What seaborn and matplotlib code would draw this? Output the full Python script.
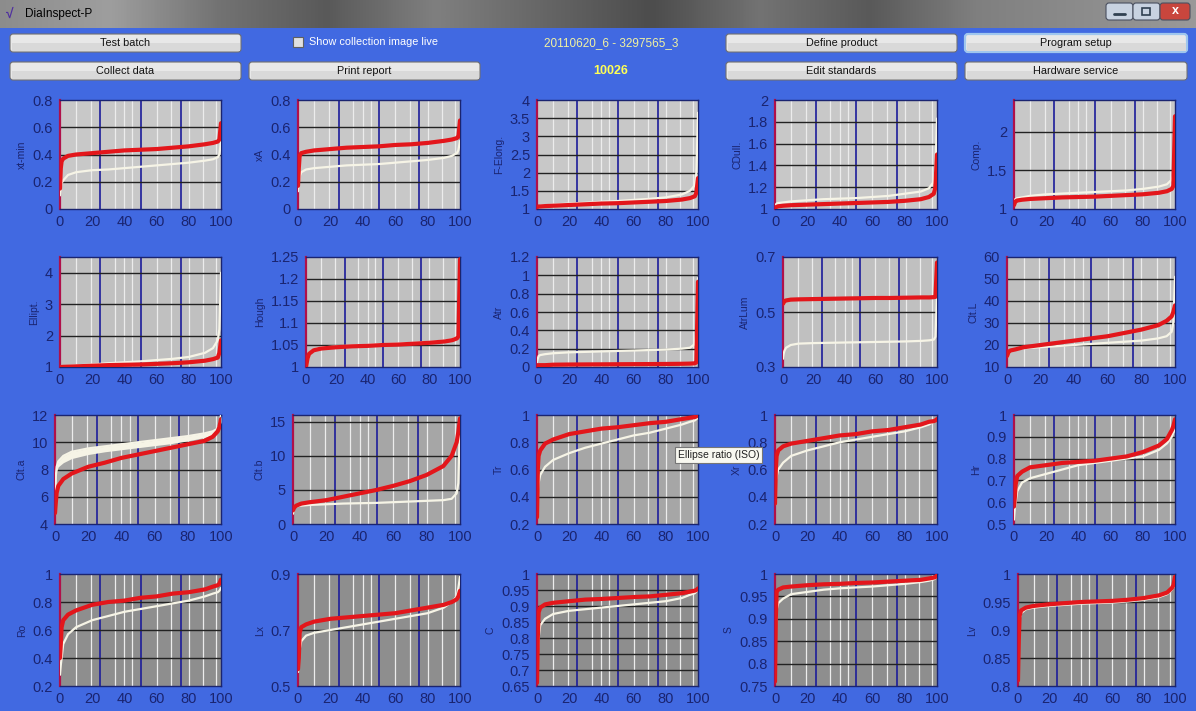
import numpy as np
import pandas as pd
import matplotlib
matplotlib.use("Agg")
import matplotlib.pyplot as plt
import seaborn as sns
from matplotlib.patches import FancyBboxPatch, Rectangle

# ---------------- data ----------------
PCT = [0, 0.5, 1, 2, 5, 10, 20, 30, 40, 50, 60, 70, 80, 90, 95, 98, 99, 100]

NAMES = ["xt-min", "xA", "F-Elong.", "CDull.", "Comp.",
         "Ellipt.", "Hough", "Atr", "AtrLum", "Clt.L",
         "Clt.a", "Clt.b", "Tr", "Xr", "Hr",
         "Ro", "Lx", "C", "S", "Lv"]

RED = [
    [0.15,0.30,0.35,0.37,0.39,0.40,0.41,0.42,0.43,0.435,0.44,0.45,0.46,0.475,0.485,0.495,0.51,0.63],
    [0.17,0.30,0.39,0.41,0.42,0.43,0.44,0.45,0.455,0.46,0.47,0.475,0.485,0.50,0.51,0.52,0.53,0.65],
    [1.05,1.06,1.07,1.07,1.08,1.09,1.11,1.13,1.15,1.16,1.18,1.20,1.22,1.26,1.30,1.35,1.45,1.85],
    [1.01,1.015,1.02,1.025,1.03,1.035,1.04,1.045,1.05,1.055,1.06,1.065,1.075,1.09,1.11,1.14,1.20,1.50],
    [1.05,1.08,1.10,1.11,1.12,1.13,1.14,1.15,1.155,1.16,1.17,1.18,1.19,1.21,1.23,1.26,1.30,2.20],
    [1.0,1.0,1.0,1.005,1.01,1.02,1.04,1.06,1.07,1.08,1.10,1.12,1.15,1.20,1.25,1.30,1.45,1.85],
    [1.00,1.01,1.02,1.03,1.038,1.042,1.045,1.047,1.048,1.05,1.051,1.053,1.055,1.058,1.061,1.065,1.07,1.245],
    [0.01,0.015,0.02,0.02,0.02,0.025,0.027,0.028,0.029,0.03,0.031,0.032,0.033,0.035,0.037,0.04,0.05,0.93],
    [0.53,0.535,0.54,0.542,0.545,0.546,0.547,0.548,0.549,0.55,0.551,0.551,0.552,0.553,0.553,0.554,0.555,0.68],
    [15,16,17,17.5,18,19,20,21,22,23,24,25.5,27,29,31,33,35,38],
    [4.8,5.6,6.3,6.8,7.3,7.7,8.2,8.5,8.85,9.1,9.35,9.6,9.85,10.1,10.4,10.8,11.1,11.7],
    [2.0,2.3,2.5,2.7,3.0,3.2,3.5,4.0,4.5,5.0,5.6,6.3,7.2,8.5,10.0,12.0,13.5,15.5],
    [0.25,0.60,0.70,0.74,0.79,0.82,0.86,0.88,0.90,0.91,0.925,0.94,0.95,0.97,0.98,0.985,0.99,1.0],
    [0.35,0.60,0.70,0.74,0.77,0.79,0.81,0.83,0.85,0.86,0.88,0.89,0.91,0.93,0.95,0.955,0.96,0.97],
    [0.58,0.62,0.68,0.72,0.74,0.76,0.77,0.78,0.785,0.79,0.80,0.81,0.83,0.86,0.89,0.93,0.95,0.98],
    [0.40,0.50,0.62,0.67,0.71,0.74,0.78,0.80,0.81,0.83,0.84,0.86,0.87,0.89,0.91,0.92,0.93,0.96],
    [0.56,0.60,0.69,0.71,0.72,0.73,0.74,0.745,0.75,0.755,0.76,0.77,0.78,0.79,0.80,0.81,0.82,0.84],
    [0.66,0.80,0.88,0.895,0.905,0.91,0.915,0.92,0.922,0.925,0.928,0.93,0.935,0.94,0.945,0.948,0.95,0.955],
    [0.76,0.90,0.96,0.965,0.97,0.972,0.975,0.977,0.978,0.98,0.981,0.983,0.985,0.987,0.99,0.992,0.993,0.997],
    [0.81,0.88,0.925,0.935,0.94,0.943,0.946,0.948,0.95,0.951,0.952,0.954,0.957,0.962,0.967,0.975,0.98,0.995],
]

WHITE = [
    [0.10,0.16,0.19,0.21,0.25,0.27,0.285,0.29,0.30,0.31,0.32,0.33,0.34,0.355,0.365,0.38,0.40,0.50],
    [0.13,0.20,0.24,0.27,0.29,0.30,0.31,0.32,0.325,0.33,0.34,0.35,0.36,0.375,0.39,0.41,0.43,0.50],
    [1.05,1.07,1.08,1.09,1.10,1.12,1.15,1.17,1.20,1.22,1.25,1.28,1.32,1.40,1.50,1.65,2.00,3.65],
    [1.03,1.04,1.05,1.055,1.06,1.07,1.08,1.09,1.095,1.10,1.11,1.12,1.14,1.16,1.19,1.25,1.35,1.83],
    [1.10,1.12,1.13,1.14,1.15,1.17,1.19,1.20,1.21,1.22,1.23,1.24,1.26,1.29,1.32,1.38,1.45,1.50],
    [1.0,1.0,1.01,1.02,1.03,1.05,1.08,1.12,1.15,1.18,1.22,1.26,1.32,1.45,1.60,1.85,2.20,4.00],
    [1.00,1.012,1.022,1.032,1.040,1.044,1.047,1.049,1.050,1.052,1.053,1.055,1.057,1.060,1.063,1.068,1.075,1.08],
    [0.05,0.09,0.12,0.13,0.14,0.15,0.16,0.165,0.17,0.175,0.18,0.185,0.19,0.20,0.21,0.25,0.40,0.97],
    [0.33,0.35,0.36,0.37,0.38,0.385,0.387,0.388,0.389,0.39,0.391,0.392,0.393,0.395,0.397,0.40,0.41,0.56],
    [15,16,17,17.5,18,18.5,19,19.5,20,20.5,21,21.5,22,23,24,26,30,51],
    [5.0,7.5,8.2,8.6,9.0,9.3,9.55,9.7,9.85,10.0,10.15,10.3,10.45,10.65,10.8,11.0,11.2,12.0],
    [1.5,2.2,2.5,2.6,2.7,2.8,2.9,3.0,3.05,3.1,3.2,3.3,3.4,3.5,3.7,4.5,6.0,15.0],
    [0.30,0.45,0.50,0.56,0.62,0.67,0.72,0.76,0.79,0.82,0.85,0.87,0.90,0.93,0.95,0.96,0.97,0.98],
    [0.45,0.52,0.55,0.60,0.65,0.70,0.74,0.77,0.80,0.82,0.84,0.86,0.88,0.91,0.93,0.95,0.96,0.97],
    [0.52,0.57,0.60,0.65,0.69,0.71,0.73,0.75,0.77,0.78,0.79,0.80,0.81,0.84,0.87,0.90,0.92,0.93],
    [0.28,0.35,0.40,0.50,0.57,0.62,0.67,0.70,0.73,0.75,0.77,0.79,0.81,0.84,0.86,0.87,0.88,0.90],
    [0.55,0.60,0.63,0.66,0.68,0.69,0.70,0.71,0.72,0.73,0.74,0.75,0.76,0.78,0.80,0.82,0.85,0.89],
    [0.70,0.76,0.80,0.84,0.86,0.875,0.885,0.89,0.895,0.90,0.905,0.91,0.915,0.925,0.935,0.94,0.945,0.95],
    [0.80,0.88,0.92,0.935,0.945,0.955,0.96,0.965,0.968,0.97,0.972,0.975,0.978,0.982,0.985,0.988,0.99,0.995],
    [0.81,0.87,0.92,0.93,0.937,0.94,0.943,0.945,0.947,0.948,0.949,0.951,0.954,0.959,0.964,0.972,0.977,0.99],
]

# lower edge of the cream band in the Clt.a panel
CLTA_WHITE_LO = [4.8,7.0,7.9,8.2,8.5,8.8,9.1,9.3,9.45,9.6,9.75,9.9,10.1,10.35,10.55,10.75,10.95,11.5]

YLIMS = [(0,0.8),(0,0.8),(1,4),(1,2),(1,2.41),
         (1,4.5),(1,1.25),(0,1.2),(0.3,0.7),(10,60),
         (4,12),(0,16),(0.2,1),(0.2,1),(0.5,1),
         (0.2,1),(0.5,0.9),(0.65,1),(0.75,1),(0.8,1)]
YTICKS = [[0,0.2,0.4,0.6,0.8],[0,0.2,0.4,0.6,0.8],[1,1.5,2,2.5,3,3.5,4],[1,1.2,1.4,1.6,1.8,2],[1,1.5,2],
          [1,2,3,4],[1,1.05,1.1,1.15,1.2,1.25],[0,0.2,0.4,0.6,0.8,1,1.2],[0.3,0.5,0.7],[10,20,30,40,50,60],
          [4,6,8,10,12],[0,5,10,15],[0.2,0.4,0.6,0.8,1],[0.2,0.4,0.6,0.8,1],[0.5,0.6,0.7,0.8,0.9,1],
          [0.2,0.4,0.6,0.8,1],[0.5,0.7,0.9],[0.65,0.7,0.75,0.8,0.85,0.9,0.95,1],[0.75,0.8,0.85,0.9,0.95,1],[0.8,0.85,0.9,0.95,1]]
XTICKS = [0, 20, 40, 60, 80, 100]
QUARTILES = [25, 50, 75]
WHITE_GRID = [10, 19, 34, 40, 45, 60, 69, 80, 89, 97]

# ---------------- layout (pixels) ----------------
W, H = 1196, 711
ROW_Y = [(100, 209), (257, 367), (415, 524), (574, 686)]
COL_L = [[60, 298, 537, 775, 1014],
         [60, 306, 537, 783, 1007],
         [55, 293, 537, 775, 1014],
         [60, 298, 537, 775, 1018]]
COL_R = [221, 460, 698, 937, 1175]
ROW_BG = ["#c8c8c8", "#c0c0c0", "#a6a6a6", "#8e8e8e"]

BLUE_BG = "#4169e1"
NAVY = "#1a2470"
RED_C = "#e3161b"
WHITE_C = "#f6f4e6"

sns.set_theme(style="white")
plt.rcParams["font.family"] = ["Liberation Sans", "DejaVu Sans"]

fig = plt.figure(figsize=(W/100, H/100), dpi=100, facecolor=BLUE_BG)

# chrome layer
ch = fig.add_axes([0, 0, 1, 1])
ch.set_xlim(0, W); ch.set_ylim(H, 0); ch.axis("off")
grad = [0.55, 0.62, 0.45, 0.35, 0.5, 0.4, 0.3, 0.45, 0.35, 0.5, 0.55, 0.6]
ch.imshow(np.interp(np.linspace(0, 11, 400), np.arange(12), grad)[None, :],
          cmap="gray", vmin=0, vmax=1, extent=(0, W, 28, 0), aspect="auto", interpolation="bicubic")
ch.text(25, 14, "DiaInspect-P", fontsize=8.5, color="black", va="center")
ch.text(6, 14, "\u221a", fontsize=10, color="#5030a0", va="center", fontweight="bold")
for (x0, x1, fc) in [(1106, 1133, "#c8d2e0"), (1133, 1160, "#c8d2e0"), (1160, 1190, "#c9463d")]:
    ch.add_patch(FancyBboxPatch((x0, 3), x1 - x0, 17, boxstyle="round,pad=0,rounding_size=3",
                                fc=fc, ec="#4a5060", lw=0.8))
ch.plot([1114, 1125], [14, 14], color="#304050", lw=2)
ch.add_patch(Rectangle((1142, 8), 8, 7, fill=False, ec="#304050", lw=1.2))
ch.text(1175, 11.5, "x", fontsize=9, color="white", ha="center", va="center", fontweight="bold")


def button(x0, y0, x1, y1, label, highlight=False):
    ch.add_patch(FancyBboxPatch((x0, y0), x1 - x0, y1 - y0, boxstyle="round,pad=0,rounding_size=3",
                                fc="#e8e8e8", ec="#9fc6ee" if highlight else "#707070",
                                lw=1.6 if highlight else 0.8))
    ch.add_patch(Rectangle((x0 + 1.5, (y0 + y1) / 2), x1 - x0 - 3, (y1 - y0) / 2 - 1.5,
                           fc="#d9d9d9", ec="none"))
    ch.text((x0 + x1) / 2, (y0 + y1) / 2 + 0.5, label, fontsize=7.8, color="#111111",
            ha="center", va="center")


button(10, 34, 241, 52, "Test batch")
button(10, 62, 241, 80, "Collect data")
button(249, 62, 480, 80, "Print report")
button(726, 34, 957, 52, "Define product")
button(965, 34, 1187, 52, "Program setup", highlight=True)
button(726, 62, 957, 80, "Edit standards")
button(965, 62, 1187, 80, "Hardware service")
ch.add_patch(Rectangle((293, 37), 10, 10, fc="#e0e0e0", ec="#606060", lw=0.8))
ch.text(309, 42, "Show collection image live", fontsize=7.8, color="white", va="center")
ch.text(611, 43, "20110620_6 - 3297565_3", fontsize=8.5, color="#f2f2a0", ha="center", va="center")
ch.text(611, 71, "10026", fontsize=9, color="#ffff55", ha="center", va="center", fontweight="bold")

# ---------------- panels ----------------
for i, name in enumerate(NAMES):
    r, c = divmod(i, 5)
    y0, y1 = ROW_Y[r]
    x0, x1 = COL_L[r][c], COL_R[c]
    ax = fig.add_axes([x0 / W, 1 - y1 / H, (x1 - x0) / W, (y1 - y0) / H])
    ax.set_facecolor(ROW_BG[r])
    for gx in WHITE_GRID:
        ax.axvline(gx, color="#ececec", lw=0.9, zorder=1)
    for q in QUARTILES:
        ax.axvline(q, color="#1c1c9a", lw=1.2, zorder=2)
    ylo, yhi = YLIMS[i]
    for t in YTICKS[i]:
        if ylo < t < yhi:
            ax.axhline(t, color="#222222", lw=1.0, zorder=2)
    df = pd.DataFrame({"pct": PCT, "red": RED[i], "white": WHITE[i]})
    if name == "Clt.a":
        ax.fill_between(df["pct"], CLTA_WHITE_LO, df["white"], color=WHITE_C, lw=0, zorder=3)
    sns.lineplot(data=df, x="pct", y="white", ax=ax, color=WHITE_C, lw=1.6, zorder=3)
    sns.lineplot(data=df, x="pct", y="red", ax=ax, color=RED_C, lw=3.0, zorder=4)
    ax.set_xlim(0, 100)
    ax.set_ylim(ylo, yhi)
    ax.set_xticks(XTICKS)
    ax.set_yticks(YTICKS[i])
    ax.set_yticklabels([f"{t:g}" for t in YTICKS[i]])
    ax.tick_params(axis="both", colors=NAVY, labelsize=10.5, length=3, width=1, pad=2)
    ax.tick_params(axis="x", direction="in", pad=4)
    ax.set_xlabel("")
    ax.set_ylabel(name, fontsize=7.5, color=NAVY, labelpad=4)
    for s in ["top", "right", "bottom"]:
        ax.spines[s].set_color(NAVY)
        ax.spines[s].set_linewidth(1)
    ax.spines["left"].set_color("#b0104a")
    ax.spines["left"].set_linewidth(1.6)
    ax.grid(False)

fig.text(678 / W, 1 - 455 / H, "Ellipse ratio (ISO)", fontsize=7.5, color="#222222",
         va="center", ha="left", zorder=20,
         bbox=dict(boxstyle="square,pad=0.25", fc="#f8f8f0", ec="#767676", lw=0.8))

fig.savefig("out.png", dpi=100, facecolor=BLUE_BG)
